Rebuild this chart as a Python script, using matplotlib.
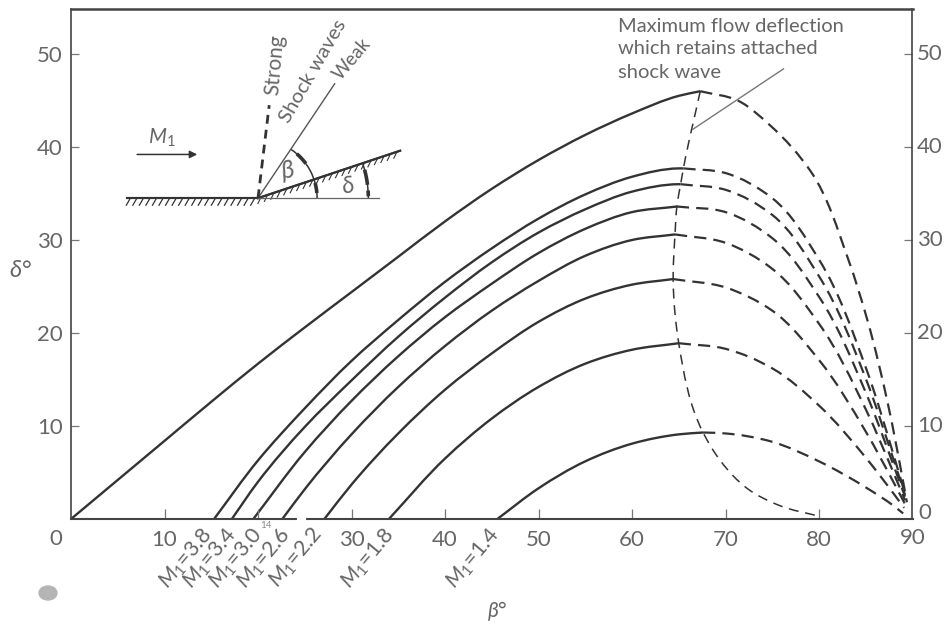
import numpy as np
import matplotlib
matplotlib.use("Agg")
import matplotlib.pyplot as plt
import matplotlib.patheffects as pe
from matplotlib.patches import Arc, Ellipse, PathPatch
from matplotlib.path import Path

plt.rcParams['font.family'] = ['Lato', 'DejaVu Sans']
plt.rcParams['mathtext.fontset'] = 'custom'
plt.rcParams['mathtext.it'] = 'Lato:italic'
plt.rcParams['mathtext.rm'] = 'Lato'

INK = "#333333"
TEXT = "#666666"

# attached shock curves, solid part (weak) and dashed part (strong)
top_solid_x = [0, 5, 10, 15, 20, 25, 30, 35, 40, 45, 50, 55, 60, 65, 67.3]
top_solid_y = [0, 4.2, 8.4, 12.6, 16.7, 20.6, 24.4, 28.2, 32.0, 35.5, 38.6, 41.3, 43.6, 45.5, 46.0]
top_dash_x = [67.3, 71.3, 74.8, 79.1, 83.1, 85.2, 87.3, 89.0, 89.4]
top_dash_y = [46.0, 45.0, 42.3, 37.4, 28.0, 21.3, 12.7, 4.0, 1.8]

m38_solid_x = [15.3, 20, 25, 30, 35, 40, 45, 50, 55, 60, 65, 65.5]
m38_solid_y = [0, 6.3, 11.9, 17.0, 21.4, 25.5, 29.1, 32.3, 34.9, 36.8, 37.7, 37.7]
m38_dash_x = [65.5, 70, 75, 80, 85, 88, 89.2]
m38_dash_y = [37.7, 37.2, 34.5, 27.9, 16.3, 6.8, 2.7]

m34_solid_x = [17.2, 20, 25, 30, 35, 40, 45, 50, 55, 60, 65, 65.2]
m34_solid_y = [0, 4.0, 9.9, 14.9, 19.6, 23.8, 27.6, 30.8, 33.3, 35.2, 36.0, 36.0]
m34_dash_x = [65.2, 70, 75, 80, 85, 88, 89.2]
m34_dash_y = [36.0, 35.4, 32.7, 26.1, 15.1, 6.3, 2.6]

m30_solid_x = [19.5, 25, 30, 35, 40, 45, 50, 55, 60, 64.8]
m30_solid_y = [0, 7.2, 12.7, 17.5, 21.7, 25.3, 28.6, 31.2, 33.0, 33.6]
m30_dash_x = [64.8, 70, 75, 80, 85, 88, 89.2]
m30_dash_y = [33.6, 33.0, 30.2, 23.9, 13.6, 5.7, 2.4]

m26_solid_x = [22.6, 25, 30, 35, 40, 45, 50, 55, 60, 64.6]
m26_solid_y = [0, 3.2, 9.1, 14.2, 18.6, 22.4, 25.6, 28.3, 30.0, 30.6]
m26_dash_x = [64.6, 70, 75, 80, 85, 88, 89.2]
m26_dash_y = [30.6, 29.7, 26.9, 21.0, 11.8, 4.9, 2.0]

m22_solid_x = [27.1, 30, 35, 40, 45, 50, 55, 60, 64.4]
m22_solid_y = [0, 3.7, 9.2, 13.9, 17.8, 21.2, 23.7, 25.2, 25.8]
m22_dash_x = [64.4, 70, 75, 80, 85, 88, 89.2]
m22_dash_y = [25.8, 24.9, 22.4, 17.1, 9.4, 3.9, 1.6]

m18_solid_x = [34, 40, 45, 50, 55, 60, 65]
m18_solid_y = [0, 6.5, 10.8, 14.2, 16.7, 18.2, 18.9]
m18_dash_x = [65, 70, 75, 80, 85, 88, 89.1]
m18_dash_y = [18.9, 18.3, 16.2, 12.2, 6.6, 2.7, 1.2]

m14_solid_x = [45.6, 50, 55, 60, 65, 67.6]
m14_solid_y = [0, 3.3, 6.2, 8.1, 9.1, 9.3]
m14_dash_x = [67.6, 70, 75, 80, 85, 88, 89]
m14_dash_y = [9.3, 9.2, 8.3, 6.2, 3.4, 1.4, 0.6]

# locus of maximum deflection
limit_x = [67.3, 65.5, 65.2, 64.8, 64.6, 64.4, 65.0, 67.6, 69.5, 72.3, 75.9, 80.0]
limit_y = [46.0, 37.7, 36.0, 33.6, 30.6, 25.8, 18.9, 9.3, 6.2, 3.3, 1.4, 0.3]

mach_labels = ["3.8", "3.4", "3.0", "2.6", "2.2", "1.8", "1.4"]
mach_label_x = [12.3, 14.9, 17.7, 20.7, 24.1, 31.8, 43.0]
x_ticks = [10, 20, 30, 40, 50, 60, 70, 80]
x_tick_labels = ["10", "", "30", "40", "50", "60", "70", "80"]
y_ticks = [10, 20, 30, 40, 50]

curves = [
    (top_solid_x, top_solid_y, top_dash_x, top_dash_y),
    (m38_solid_x, m38_solid_y, m38_dash_x, m38_dash_y),
    (m34_solid_x, m34_solid_y, m34_dash_x, m34_dash_y),
    (m30_solid_x, m30_solid_y, m30_dash_x, m30_dash_y),
    (m26_solid_x, m26_solid_y, m26_dash_x, m26_dash_y),
    (m22_solid_x, m22_solid_y, m22_dash_x, m22_dash_y),
    (m18_solid_x, m18_solid_y, m18_dash_x, m18_dash_y),
    (m14_solid_x, m14_solid_y, m14_dash_x, m14_dash_y),
]


def smooth_curve(xs, ys, **kwargs):
    """Bezier through the read points, so the line has no corners."""
    x = np.asarray(xs, dtype=float)
    y = np.asarray(ys, dtype=float)
    t = np.concatenate([[0], np.cumsum(np.hypot(np.diff(x), np.diff(y)))])
    gx = np.gradient(x, t)
    gy = np.gradient(y, t)
    verts = [(x[0], y[0])]
    codes = [Path.MOVETO]
    for i in range(len(x) - 1):
        h = (t[i + 1] - t[i]) / 3
        verts += [(x[i] + gx[i] * h, y[i] + gy[i] * h),
                  (x[i + 1] - gx[i + 1] * h, y[i + 1] - gy[i + 1] * h),
                  (x[i + 1], y[i + 1])]
        codes += [Path.CURVE4] * 3
    return PathPatch(Path(verts, codes), fill=False, **kwargs)


fig = plt.figure(figsize=(9.45, 6.25), dpi=100)
ax = fig.add_axes([71 / 945, 106 / 625, 841.5 / 945, 510 / 625])
ax.set_xlim(0, 90)
ax.set_ylim(0, 54.84)

for sx, sy, dx, dy in curves:
    ax.add_patch(smooth_curve(sx, sy, edgecolor=INK, lw=1.7))
    ax.add_patch(smooth_curve(dx, dy, edgecolor=INK, lw=1.6, linestyle=(0, (5.5, 3.2))))
ax.add_patch(smooth_curve(limit_x, limit_y, edgecolor=INK, lw=1.1, linestyle=(0, (6.5, 4.4))))

# ticks and spines
for side in ax.spines:
    ax.spines[side].set_color("#444444")
    ax.spines[side].set_linewidth(1.2)
ax.spines["top"].set_linewidth(1.8)
ax.spines["bottom"].set_linewidth(1.5)
ax.set_xticks(x_ticks)
ax.set_xticklabels(x_tick_labels)
ax.set_yticks(y_ticks)
ax.tick_params(axis="x", direction="in", length=7, width=0.9, color="#777777",
               labelsize=16, labelcolor=TEXT, pad=8)
ax.tick_params(axis="y", direction="in", length=6, width=0.9, color="#777777",
               labelsize=16, labelcolor=TEXT, pad=6, right=True)
for tick in y_ticks:
    ax.text(90.45, tick, str(tick), ha="left", va="center", fontsize=16, color=TEXT)
ax.text(-1.6, -2.1, "0", ha="center", va="center", fontsize=16, color=TEXT)
ax.text(90, -2.0, "90", ha="center", va="center", fontsize=16, color=TEXT)
ax.text(90.6, 0.6, "0", ha="left", va="center", fontsize=16, color=TEXT)
ax.text(45.6, -9.9, r"$\beta$°", ha="center", va="center", fontsize=15, color=TEXT)
ax.text(-5.4, 26.7, r"$\delta$°", ha="center", va="center", fontsize=17, color=TEXT)
ax.text(20.8, -0.7, "14", ha="center", va="center", fontsize=7, color="#888888")
ax.plot([24.4, 24.9], [0, 0], color="white", lw=3, clip_on=False, zorder=5)

for lab, xpos in zip(mach_labels, mach_label_x):
    ax.text(xpos, -4.2, r"$M_1$=" + lab, ha="center", va="center", rotation=50,
            rotation_mode="anchor", fontsize=15.5, color=TEXT, clip_on=False)

# note on the maximum deflection line
ax.text(58.5, 53.0, "Maximum flow deflection", ha="left", va="center", fontsize=14.5, color=TEXT)
ax.text(58.5, 50.6, "which retains attached", ha="left", va="center", fontsize=14.5, color=TEXT)
ax.text(58.5, 48.0, "shock wave", ha="left", va="center", fontsize=14.5, color=TEXT)
ax.plot([76.2, 66.5], [48.4, 41.9], color="#777777", lw=1.0)

# inset sketch of the wedge
wall_x = [6.0, 20.0]
wall_y = [34.5, 34.5]
wedge_x = [20.0, 35.2]
wedge_y = [34.5, 39.6]
base_x = [20.0, 32.9]
base_y = [34.5, 34.5]
weak_x = [20.0, 28.2]
weak_y = [34.5, 46.8]
strong_x = [20.0, 21.2]
strong_y = [34.5, 44.5]
ax.plot(wall_x, wall_y, color=INK, lw=1.5,
        path_effects=[pe.withTickedStroke(angle=-120, length=1.25, spacing=4.7, linewidth=0.9), pe.Normal()])
ax.plot(wedge_x, wedge_y, color=INK, lw=1.5,
        path_effects=[pe.withTickedStroke(angle=-135, length=1.1, spacing=4.7, linewidth=0.8), pe.Normal()])
ax.plot(base_x, base_y, color="#666666", lw=0.9)
ax.plot(weak_x, weak_y, color="#555555", lw=1.0)
ax.plot(strong_x, strong_y, color=INK, lw=2.0, dashes=(3.2, 2.2))
ax.annotate("", xy=(13.5, 39.2), xytext=(7.07, 39.2),
            arrowprops=dict(arrowstyle="-|>", color="#333333", lw=1.1, mutation_scale=11, shrinkA=0, shrinkB=0))
ax.text(9.7, 41.0, r"$M_1$", ha="center", va="center", fontsize=15, color=TEXT)
ax.text(23.2, 37.4, r"$\beta$", ha="center", va="center", fontsize=18, color=TEXT, rotation=10)
ax.text(29.6, 35.8, r"$\delta$", ha="center", va="center", fontsize=17, color=TEXT, rotation=10)
ax.text(21.8, 48.8, "Strong", ha="center", va="center", rotation=85, fontsize=15, color=TEXT)
ax.text(25.9, 48.2, "Shock waves", ha="center", va="center", rotation=60, fontsize=14.7, color=TEXT)
ax.text(30.0, 49.5, "Weak", ha="center", va="center", rotation=50, fontsize=13.5, color=TEXT)
for radius, start, stop, width in [(6.32, 0, 56, 1.1), (11.8, 0, 18, 1.1),
                                   (6.32, 36, 49, 2.6), (6.32, 5, 15, 2.6),
                                   (11.8, 7, 15, 2.6), (11.8, 1, 4, 2.6)]:
    ax.add_patch(Arc((20.0, 34.5), 2 * radius, 2 * radius, theta1=start, theta2=stop,
                     color=INK, lw=width))

# scan smudge below the axis
fig.add_artist(Ellipse((48 / 945, 1 - 593 / 625), 18 / 945, 14 / 625, angle=0, color="#b5b5b5",
                       transform=fig.transFigure))

fig.savefig("out.png", dpi=100)
